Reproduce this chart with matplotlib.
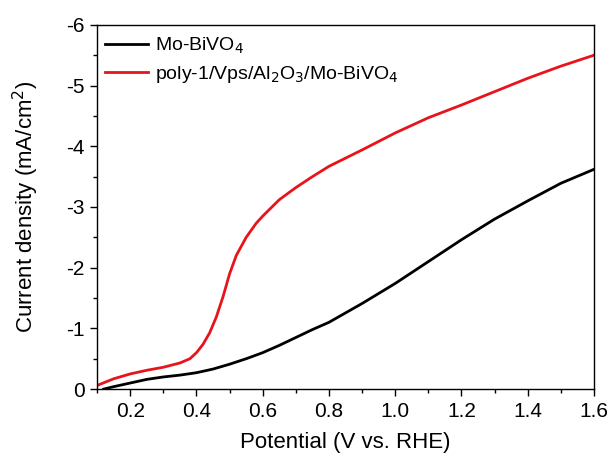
import matplotlib.pyplot as plt
from matplotlib.ticker import MultipleLocator

plt.rcParams['font.family'] = ['Liberation Sans', 'DejaVu Sans']

# Mo-BiVO4 (black)
v_mo = [0.12, 0.15, 0.2, 0.25, 0.3, 0.35, 0.4, 0.45, 0.5, 0.55, 0.6, 0.65, 0.7, 0.75, 0.8,
        0.9, 1.0, 1.1, 1.2, 1.3, 1.4, 1.5, 1.6]
j_mo = [0.0, -0.04, -0.1, -0.16, -0.2, -0.23, -0.27, -0.33, -0.41, -0.5, -0.6, -0.72, -0.85,
        -0.98, -1.1, -1.41, -1.74, -2.1, -2.46, -2.8, -3.1, -3.39, -3.62]

# poly-1/Vps/Al2O3/Mo-BiVO4 (red)
v_poly = [0.1, 0.15, 0.2, 0.25, 0.3, 0.35, 0.38, 0.4, 0.42, 0.44, 0.46, 0.48, 0.5, 0.52,
          0.55, 0.58, 0.6, 0.65, 0.7, 0.75, 0.8, 0.9, 1.0, 1.1, 1.2, 1.3, 1.4, 1.5, 1.6]
j_poly = [-0.06, -0.17, -0.25, -0.31, -0.36, -0.43, -0.5, -0.6, -0.74, -0.93, -1.19, -1.52,
          -1.9, -2.2, -2.5, -2.73, -2.85, -3.12, -3.32, -3.5, -3.67, -3.94, -4.22, -4.47,
          -4.68, -4.9, -5.12, -5.32, -5.5]

fig = plt.figure(figsize=(6.11, 4.61), dpi=100)
ax = fig.add_axes([0.159, 0.156, 0.813, 0.79])

ax.plot(v_mo, j_mo, color='black', lw=2, label='Mo-BiVO$_4$')
ax.plot(v_poly, j_poly, color='#e8141b', lw=2, label='poly-1/Vps/Al$_2$O$_3$/Mo-BiVO$_4$')

ax.set_xlim(0.1, 1.6)
ax.set_ylim(0, -6)
ax.xaxis.set_major_locator(MultipleLocator(0.2))
ax.xaxis.set_minor_locator(MultipleLocator(0.1))
ax.yaxis.set_major_locator(MultipleLocator(1))
ax.yaxis.set_minor_locator(MultipleLocator(0.5))
ax.xaxis.set_major_formatter(plt.FuncFormatter(lambda v, p: f'{v:.1f}'))
ax.yaxis.set_major_formatter(plt.FuncFormatter(lambda v, p: f'{v:.0f}'.replace('-0', '0')))
ax.tick_params(which='major', direction='out', length=5, width=1, labelsize=15, pad=4)
ax.tick_params(which='minor', direction='out', length=3, width=1)
for s in ax.spines.values():
    s.set_linewidth(1)

ax.set_xlabel('Potential (V vs. RHE)', fontsize=16, labelpad=8)
ax.set_ylabel('Current density (mA/cm$^2$)', fontsize=16, labelpad=18)

ax.legend(loc='upper left', bbox_to_anchor=(0, 0.992), frameon=False, fontsize=14,
          handlelength=2.2, handletextpad=0.4, borderaxespad=0.0, labelspacing=0.42)

fig.savefig('out.png', dpi=100)
